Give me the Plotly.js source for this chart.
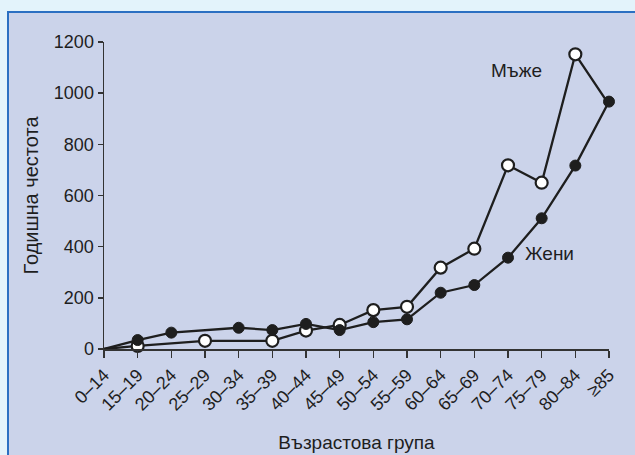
<!DOCTYPE html>
<html>
<head>
<meta charset="utf-8">
<script src="https://cdn.plot.ly/plotly-3.0.1.min.js"></script>
<style>
  html, body { margin: 0; padding: 0; width: 635px; height: 455px; overflow: hidden; background: #e3f3fb; }
  #frame { position: absolute; left: 7px; top: 11px; width: 640px; height: 460px;
           border-left: 2px solid #2b6fc2; border-top: 2px solid #2b6fc2; background: #cbd3ea; }
  #chart { position: absolute; left: 0; top: 0; width: 635px; height: 455px; }
</style>
</head>
<body>
<div id="frame"></div>
<div id="chart"></div>
<script>
const categories = ["0–14","15–19","20–24","25–29","30–34","35–39","40–44","45–49","50–54","55–59","60–64","65–69","70–74","75–79","80–84","≥85"];
const men   = [0, 12, null, 32, null, 32, 72, 94, 152, 165, 318, 392, 718, 650, 1152, 955];
const women = [0, 35, 64, null, 83, 74, 98, 74, 105, 116, 220, 250, 357, 511, 717, 967];
const yTicks = [0, 200, 400, 600, 800, 1000, 1200];
const menLabel = "Мъже";
const womenLabel = "Жени";
const xTitle = "Възрастова група";
const yTitle = "Годишна честота";

const font = "Liberation Sans, Arial, Helvetica, sans-serif";
const ink = "#1e1e1e";

// first point (and men's last point) carry no visible marker
const menSizes = men.map((v, i) => (i === 0 || i === men.length - 1) ? 0 : 12);
const womenSizes = women.map((v, i) => (i === 0) ? 0 : 11);

const traces = [
  {
    x: categories, y: men, type: "scatter", mode: "lines+markers", connectgaps: true,
    line: { color: ink, width: 2.3 },
    marker: { symbol: "circle", size: menSizes, opacity: 1, color: "#ffffff", line: { color: ink, width: 2.2 } },
    cliponaxis: false, hoverinfo: "skip", name: menLabel
  },
  {
    x: categories, y: women, type: "scatter", mode: "lines+markers", connectgaps: true,
    line: { color: ink, width: 2.3 },
    marker: { symbol: "circle", size: womenSizes, opacity: 1, color: ink, line: { color: ink, width: 1 } },
    cliponaxis: false, hoverinfo: "skip", name: womenLabel
  }
];

const layout = {
  width: 635, height: 455,
  margin: { l: 104, r: 26, t: 42, b: 106, pad: 0 },
  paper_bgcolor: "rgba(0,0,0,0)",
  plot_bgcolor: "rgba(0,0,0,0)",
  showlegend: false,
  font: { family: font, color: ink, size: 17 },
  xaxis: {
    type: "category", range: [0, 15], autorange: false,
    showgrid: false, zeroline: false,
    showline: true, linecolor: "#333333", linewidth: 1.5,
    ticks: "outside", ticklen: 7, tickwidth: 1.5, tickcolor: "#333333",
    tickangle: -45, tickfont: { family: font, size: 18, color: ink },
    automargin: false,
    title: { text: xTitle, font: { family: font, size: 19, color: ink }, standoff: 22 }
  },
  yaxis: {
    range: [0, 1200], autorange: false,
    tickvals: yTicks, ticktext: yTicks.map(String),
    showgrid: false, zeroline: false,
    showline: true, linecolor: "#333333", linewidth: 1.5,
    ticks: "outside", ticklen: 5, tickwidth: 1.5, tickcolor: "#333333",
    tickfont: { family: font, size: 18, color: ink },
    automargin: false,
    title: { text: yTitle, font: { family: font, size: 20, color: ink }, standoff: 10 }
  },
  annotations: [
    { x: 12.25, y: 1090, xref: "x", yref: "y", text: menLabel, showarrow: false,
      font: { family: font, size: 19, color: ink } },
    { x: 13.23, y: 375, xref: "x", yref: "y", text: womenLabel, showarrow: false,
      font: { family: font, size: 19, color: ink } }
  ]
};

Plotly.newPlot("chart", traces, layout, { displayModeBar: false, staticPlot: true });
</script>
</body>
</html>
